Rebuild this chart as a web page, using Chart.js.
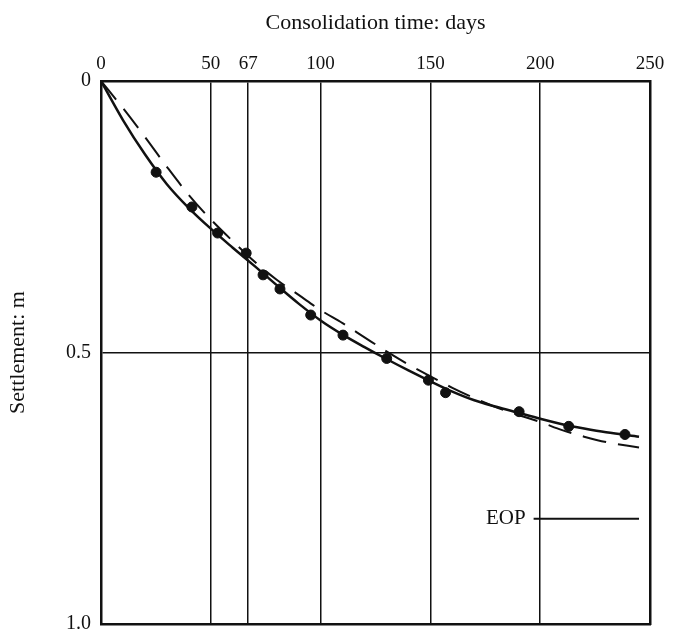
<!DOCTYPE html>
<html>
<head>
<meta charset="utf-8">
<script src="https://cdn.jsdelivr.net/npm/chart.js@4.4.1/dist/chart.umd.min.js"></script>
<style>
  html, body { margin: 0; padding: 0; background: #ffffff; }
  #wrap { width: 674px; height: 635px; }
</style>
</head>
<body>
<div id="wrap"><canvas id="c" width="674" height="635"></canvas></div>
<script>
// ---- Data ----
const xTickValues = [0, 50, 67, 100, 150, 200, 250];
const yTickValues = [0, 0.5, 1.0];

// observed settlements (dots)
const obsDays = [25.1, 41.4, 53.1, 66.1, 73.8, 81.5, 95.5, 110.2, 130.1, 149.1, 156.9, 190.4, 213.0, 238.6];
const obsSettlement = [0.168, 0.232, 0.280, 0.317, 0.357, 0.383, 0.431, 0.468, 0.511, 0.551, 0.574, 0.609, 0.636, 0.651];

// curves
const curveDays = [0, 10, 20, 30, 40, 50, 60, 70, 80, 90, 100, 110, 120, 130, 140, 150, 160, 170, 180, 190, 200, 210, 220, 230, 245];
const solidSettlement = [0, 0.072, 0.135, 0.190, 0.234, 0.272, 0.307, 0.341, 0.376, 0.410, 0.441, 0.467, 0.490, 0.512, 0.533, 0.553, 0.572, 0.588, 0.600, 0.611, 0.622, 0.632, 0.640, 0.647, 0.655];
const dashedSettlement = [0, 0.050, 0.103, 0.158, 0.210, 0.255, 0.295, 0.333, 0.366, 0.394, 0.422, 0.446, 0.472, 0.498, 0.522, 0.544, 0.565, 0.584, 0.601, 0.615, 0.628, 0.643, 0.655, 0.665, 0.675];

// end of primary consolidation marker
const eopDays = [197, 245];
const eopSettlement = 0.806;
const eopLabel = 'EOP';

const xTitle = 'Consolidation time: days';
const yTitle = 'Settlement: m';

// ---- Build ----
const INK = '#111111';
const FAMILY = '"Liberation Serif", "Times New Roman", serif';

const pts = (xs, ys) => xs.map((x, i) => ({ x: x, y: Array.isArray(ys) ? ys[i] : ys }));

const eopPlugin = {
  id: 'eopLabel',
  afterDatasetsDraw(chart) {
    const ctx = chart.ctx;
    const xs = chart.scales.x, ys = chart.scales.y;
    ctx.save();
    ctx.fillStyle = INK;
    ctx.font = '21px ' + FAMILY;
    ctx.textAlign = 'right';
    ctx.textBaseline = 'middle';
    ctx.fillText(eopLabel, xs.getPixelForValue(eopDays[0]) - 8, ys.getPixelForValue(eopSettlement));
    ctx.restore();
  }
};

const innerGridWidth = (min, max) => (c) => {
  const v = c.tick ? c.tick.value : null;
  return (v === min || v === max) ? 0 : 1.5;
};

new Chart(document.getElementById('c'), {
  type: 'scatter',
  data: {
    datasets: [
      {
        label: 'Measured',
        data: pts(obsDays, obsSettlement),
        showLine: false,
        pointRadius: 5,
        pointBackgroundColor: INK,
        pointBorderColor: INK,
        order: 0
      },
      {
        label: 'Fitted',
        data: pts(curveDays, solidSettlement),
        showLine: true,
        borderColor: INK,
        borderWidth: 2.5,
        pointRadius: 0,
        cubicInterpolationMode: 'monotone',
        order: 1
      },
      {
        label: 'Predicted',
        data: pts(curveDays, dashedSettlement),
        showLine: true,
        borderColor: INK,
        borderWidth: 2,
        borderDash: [24, 12],
        pointRadius: 0,
        cubicInterpolationMode: 'monotone',
        order: 2
      },
      {
        label: 'EOP',
        data: pts(eopDays, eopSettlement),
        showLine: true,
        borderColor: INK,
        borderWidth: 2,
        pointRadius: 0,
        order: 3
      }
    ]
  },
  options: {
    responsive: false,
    animation: false,
    events: [],
    layout: { padding: { left: 0, top: 0, right: 0, bottom: 0 } },
    plugins: {
      legend: { display: false },
      tooltip: { enabled: false }
    },
    scales: {
      x: {
        type: 'linear',
        position: 'top',
        min: 0,
        max: 250,
        afterBuildTicks: (s) => { s.ticks = xTickValues.map(v => ({ value: v })); },
        afterFit: (s) => { s.height = 81; },
        ticks: {
          autoSkip: false,
          maxRotation: 0,
          padding: 6,
          color: INK,
          font: { family: FAMILY, size: 19 },
          callback: (v) => String(v)
        },
        grid: { color: INK, lineWidth: innerGridWidth(0, 250), drawTicks: false },
        border: { display: true, color: INK, width: 2.5 },
        title: {
          display: true,
          text: xTitle,
          color: INK,
          font: { family: FAMILY, size: 22 },
          padding: { top: 10, bottom: 0 }
        }
      },
      y: {
        type: 'linear',
        position: 'left',
        reverse: true,
        min: 0,
        max: 1,
        afterBuildTicks: (s) => { s.ticks = yTickValues.map(v => ({ value: v })); },
        afterFit: (s) => { s.width = 101; s.paddingTop = 0; s.paddingBottom = 0; },
        ticks: {
          padding: 10,
          color: INK,
          font: { family: FAMILY, size: 20 },
          callback: (v) => (v === 0 ? '0' : Number(v).toFixed(1))
        },
        grid: { color: INK, lineWidth: innerGridWidth(0, 1), drawTicks: false },
        border: { display: true, color: INK, width: 2.5 },
        title: {
          display: true,
          text: yTitle,
          color: INK,
          font: { family: FAMILY, size: 22 },
          padding: { top: 5, bottom: 0 }
        }
      },
      x2: {
        type: 'linear',
        position: 'bottom',
        min: 0,
        max: 250,
        afterFit: (s) => { s.height = 11; },
        ticks: { display: false },
        grid: { display: false, drawTicks: false },
        border: { display: true, color: INK, width: 2.5 }
      },
      y2: {
        type: 'linear',
        position: 'right',
        min: 0,
        max: 1,
        afterFit: (s) => { s.width = 24; },
        ticks: { display: false },
        grid: { display: false, drawTicks: false },
        border: { display: true, color: INK, width: 2.5 }
      }
    }
  },
  plugins: [eopPlugin]
});
</script>
</body>
</html>
